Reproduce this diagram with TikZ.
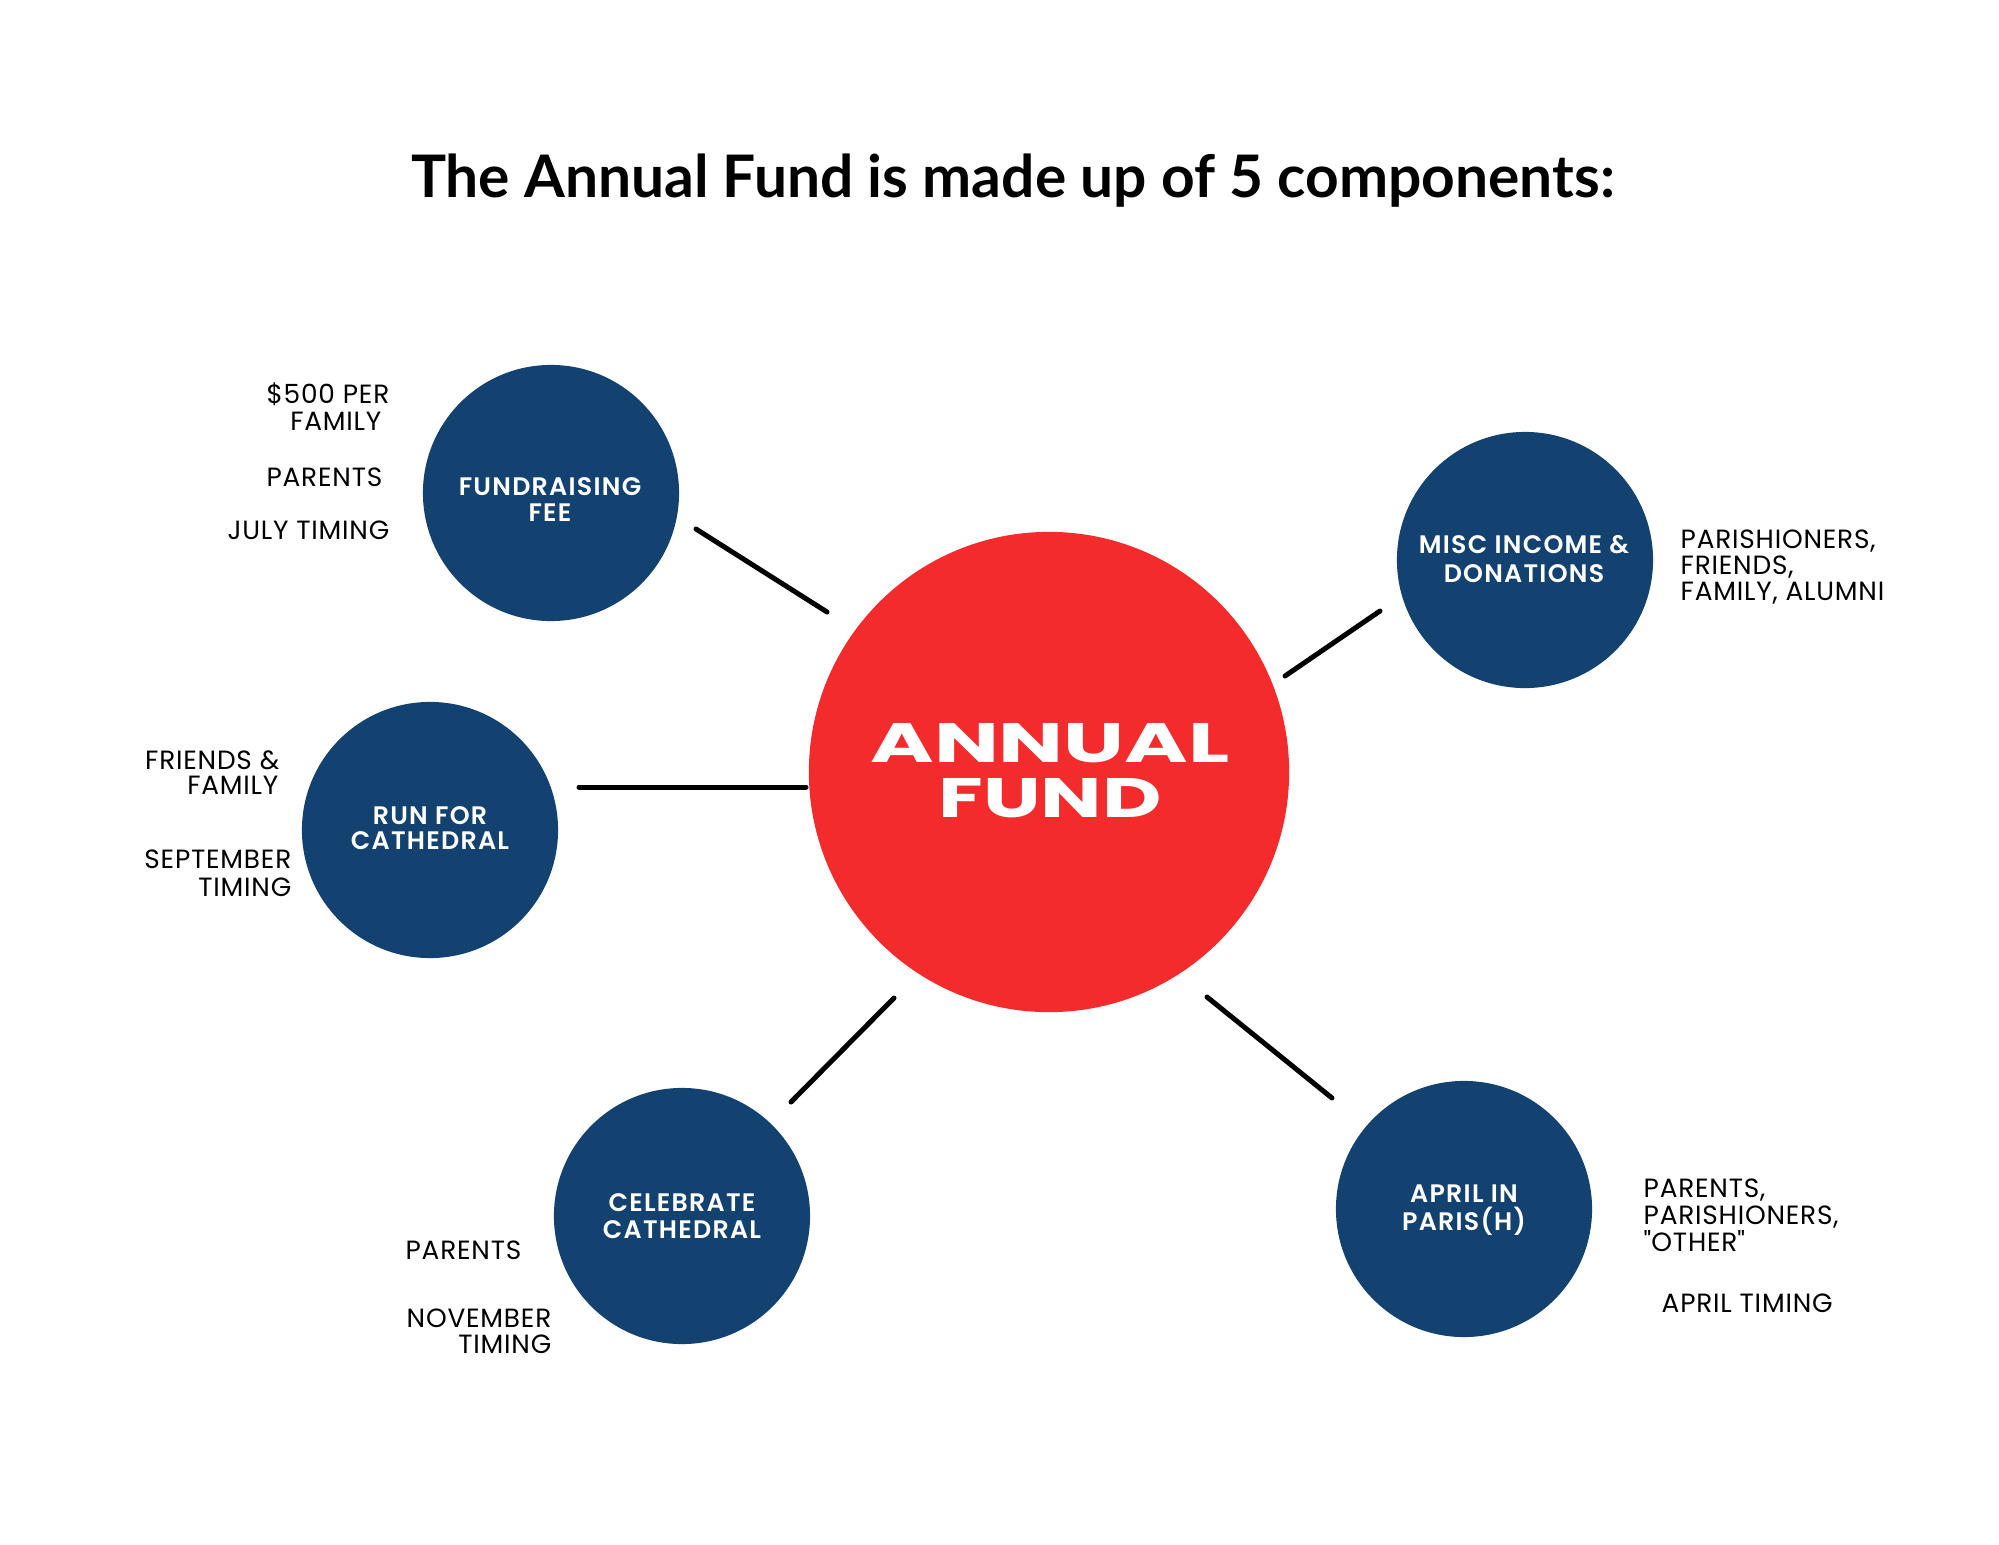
\documentclass[tikz,border=0pt]{standalone}
\usepackage{fontspec}
\setmainfont{Poppins}[LetterSpace=3]
\newfontfamily\titlefont{Lato}
\newfontfamily\semib{Poppins SemiBold}[LetterSpace=5]
\newfontfamily\heavyfont{Poppins}
\usetikzlibrary{calc}
\definecolor{navy}{HTML}{134270}
\definecolor{fundred}{HTML}{F42B2D}
\tikzset{
  comp/.style={circle, fill=navy, minimum size=2.56cm, inner sep=0pt},
  ctext/.style={text=white, font=\fontsize{7.2}{7.2}\selectfont\semib, inner sep=0pt, anchor=base},
  lbl/.style={text=black, font=\fontsize{7.5}{7.5}\selectfont, inner sep=0pt},
  lblr/.style={lbl, anchor=base east},
  lbll/.style={lbl, anchor=base west},
  conn/.style={line width=1.42pt, line cap=round, black}
}
\begin{document}
\begin{tikzpicture}[x=0.01cm,y=-0.01cm]
\path[use as bounding box, fill=white] (0,0) rectangle (1999,1545);

% title
\node[anchor=base, inner sep=0pt] (title) at (1013,197)
  {\resizebox{12.03cm}{!}{\titlefont\bfseries The Annual Fund is made up of 5 components:}};

% central circle
\node[circle, fill=fundred, minimum size=4.8cm, inner sep=0pt] (annual) at (1049,772) {};
\node[anchor=base, inner sep=0pt, text=white] (annualA) at (1050,762)
  {\resizebox{3.59cm}{0.39cm}{\heavyfont\bfseries ANNUAL}};
\node[anchor=base, inner sep=0pt, text=white] (annualB) at (1050,817)
  {\resizebox{2.23cm}{0.39cm}{\heavyfont\bfseries FUND}};

% component circles
\node[comp] (fund) at (551,493) {};
\node[comp] (misc) at (1525,560) {};
\node[comp] (run) at (430,830) {};
\node[comp] (celeb) at (682,1216) {};
\node[comp] (april) at (1464,1209) {};

% circle texts
\node[ctext] (fundA) at (550,495) {FUNDRAISING};
\node[ctext] (fundB) at (550,521) {FEE};
\node[ctext] (miscA) at (1524,553) {MISC INCOME \&};
\node[ctext] (miscB) at (1524,582) {DONATIONS};
\node[ctext] (runA) at (430,824) {RUN FOR};
\node[ctext] (runB) at (430,849) {CATHEDRAL};
\node[ctext] (celebA) at (682,1211) {CELEBRATE};
\node[ctext] (celebB) at (682,1238) {CATHEDRAL};
\node[ctext] (aprilA) at (1464,1202) {APRIL IN};
\node[ctext] (aprilB) at (1464,1230) {PARIS(H)};

% side labels
\node[lblr] (f1) at (390,403) {\$500 PER};
\node[lblr] (f2) at (382,430) {FAMILY};
\node[lblr] (f3) at (383,486) {PARENTS};
\node[lblr] (f4) at (390,539) {JULY TIMING};

\node[lbll] (m1) at (1680,548) {PARISHIONERS,};
\node[lbll] (m2) at (1680,574) {FRIENDS,};
\node[lbll] (m3) at (1680,600) {FAMILY, ALUMNI};

\node[lblr] (r1) at (280,769) {FRIENDS \&};
\node[lblr] (r2) at (279,794) {FAMILY};
\node[lblr] (r3) at (292,868) {SEPTEMBER};
\node[lblr] (r4) at (292,896) {TIMING};

\node[lbll] (c1) at (405,1259) {PARENTS};
\node[lblr] (c2) at (552,1327) {NOVEMBER};
\node[lblr] (c3) at (552,1353) {TIMING};

\node[lbll] (a1) at (1643,1197) {PARENTS,};
\node[lbll] (a2) at (1643,1224) {PARISHIONERS,};
\node[lbll] (a3) at (1643,1251) {\textquotedbl OTHER\textquotedbl};
\node[lbll] (a4) at (1661,1312) {APRIL TIMING};

% connector end points
\coordinate (e1a) at ($(fund)+(145,36)$);
\coordinate (e1b) at ($(annual)+(-222,-160)$);
\coordinate (e2a) at ($(run)+(149,-43)$);
\coordinate (e2b) at ($(annual)+(-243,15)$);
\coordinate (e3a) at ($(celeb)+(109,-114)$);
\coordinate (e3b) at ($(annual)+(-155,226)$);
\coordinate (e4a) at ($(april)+(-132,-111)$);
\coordinate (e4b) at ($(annual)+(158,225)$);
\coordinate (e5a) at ($(misc)+(-145,51)$);
\coordinate (e5b) at ($(annual)+(236,-96)$);

\draw[conn] (e1a) -- (e1b);
\draw[conn] (e2a) -- (e2b);
\draw[conn] (e3a) -- (e3b);
\draw[conn] (e4a) -- (e4b);
\draw[conn] (e5a) -- (e5b);
\end{tikzpicture}
\end{document}
